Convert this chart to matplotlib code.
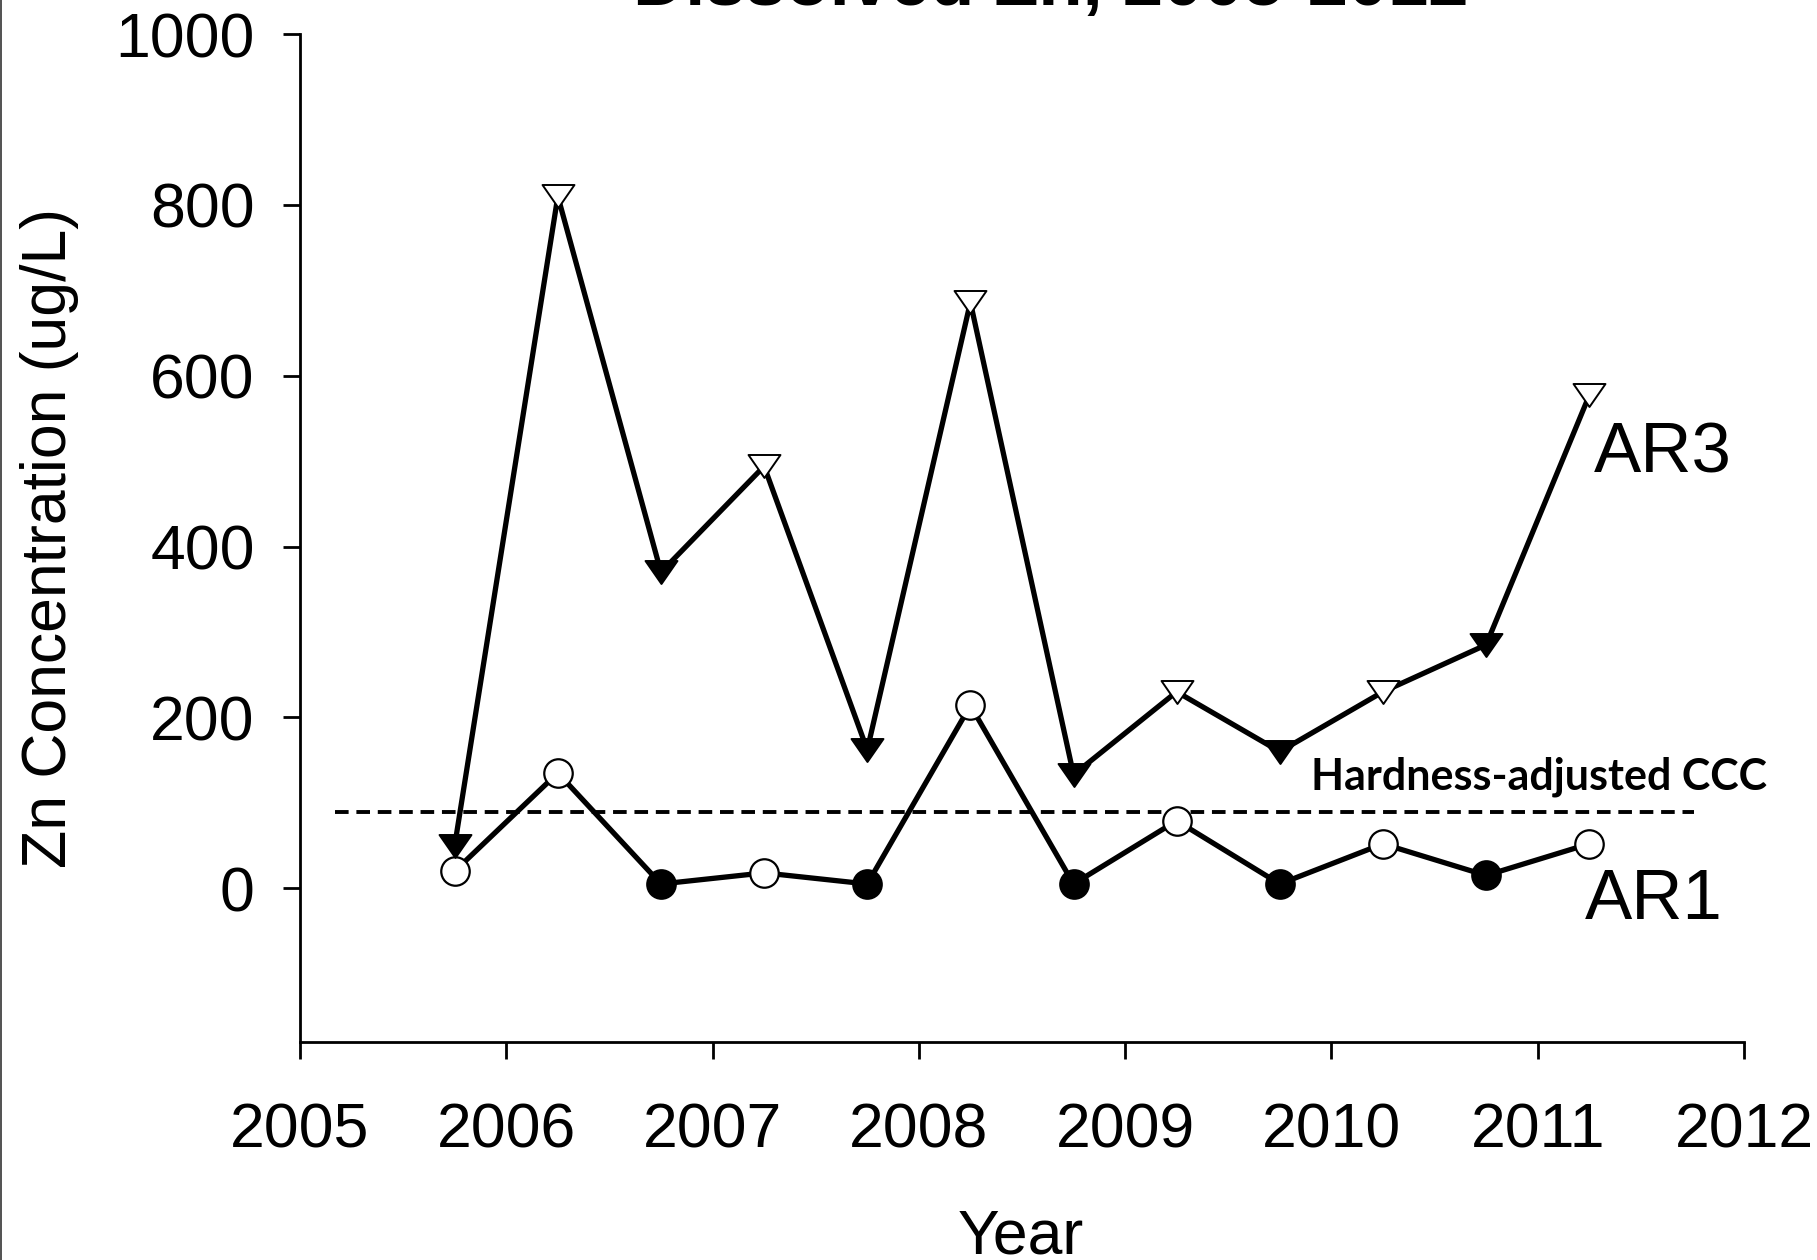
import numpy as np
import matplotlib
matplotlib.use('Agg')
import matplotlib.pyplot as plt
from matplotlib.lines import Line2D
from matplotlib.path import Path

plt.rcParams['font.family'] = ['Liberation Sans', 'DejaVu Sans']

# sampling dates (spring / fall) and dissolved Zn, ug/L
dates = [2005.75, 2006.25, 2006.75, 2007.25, 2007.75, 2008.25,
         2008.75, 2009.25, 2009.75, 2010.25, 2010.75, 2011.25]
ar1 = [20, 135, 5, 18, 5, 214, 5, 79, 5, 52, 15, 52]
ar3 = [50, 810, 370, 494, 162, 686, 133, 230, 160, 230, 285, 577]
# filled symbol = fall sample, open = spring sample
ar1_filled = [False, False, True, False, True, False, True, False, True, False, True, False]
ar3_filled = [True, False, True, False, True, False, True, False, True, False, True, False]

ccc = 89
ccc_x = [2005.17, 2011.76]

xticks = [2005, 2006, 2007, 2008, 2009, 2010, 2011, 2012]
yticks = [0, 200, 400, 600, 800, 1000]

# flattened down-pointing triangle (closed path)
tri = Path([(-1, 0.72), (1, 0.72), (0, -0.72), (-1, 0.72)],
           [Path.MOVETO, Path.LINETO, Path.LINETO, Path.CLOSEPOLY])

fig = plt.figure(figsize=(18.17, 12.60), dpi=100)
ax = fig.add_axes([0.1651, 0.1730, 0.7947, 0.8])


def draw(vals, filled, marker, ms, mew, z):
    x = np.array(dates)
    y = np.array(vals)
    f = np.array(filled)
    ax.plot(x, y, color='black', lw=3.8, zorder=z, solid_capstyle='butt')
    ax.plot(x[f], y[f], ls='none', marker=marker, ms=ms, mfc='black',
            mec='black', mew=mew, zorder=z + 0.5)
    ax.plot(x[~f], y[~f], ls='none', marker=marker, ms=ms, mfc='white',
            mec='black', mew=mew, zorder=z + 0.5)


ax.plot(ccc_x, [ccc, ccc], color='black', lw=2.8, dashes=(3.5, 2.0), zorder=2)
draw(ar1, ar1_filled, 'o', 20.5, 1.6, 3)
draw(ar3, ar3_filled, tri, 23, 1.4, 5)

ax.text(2009.90, 116, 'Hardness-adjusted CCC', fontsize=31, fontweight='bold',
        family=['Lato', 'DejaVu Sans'], ha='left', va='baseline')
ax.text(2011.27, 487, 'AR3', fontsize=51, ha='left', va='baseline')
ax.text(2011.23, -36, 'AR1', fontsize=51, ha='left', va='baseline')

ax.set_xlim(2005, 2012)
ax.set_ylim(-180, 1000)
ax.set_xticks(xticks)
ax.set_yticks(yticks)
for s in ['top', 'right']:
    ax.spines[s].set_visible(False)
for s in ['left', 'bottom']:
    ax.spines[s].set_linewidth(2)
ax.tick_params(direction='out', length=12, width=2, labelsize=45)
ax.tick_params(axis='x', pad=31)
ax.tick_params(axis='y', pad=20.5)

ax.set_xlabel('Year', fontsize=45, va='baseline')
ax.xaxis.set_label_coords(0.4993, -0.21)
ax.set_ylabel('Zn Concentration (ug/L)', fontsize=45, va='center')
ax.yaxis.set_label_coords(-0.1738, 0.5)

# title sits mostly above the saved area, as in the original export
fig.text(1051 / 1817, 1 - 5 / 1260, 'Dissolved Zn, 2005-2012', ha='center',
         va='baseline', fontsize=52, fontweight='bold')
fig.add_artist(Line2D([0.0008, 0.0008], [0, 1], transform=fig.transFigure,
                      color='#333333', lw=1.2))

fig.savefig('out.png', dpi=100)
